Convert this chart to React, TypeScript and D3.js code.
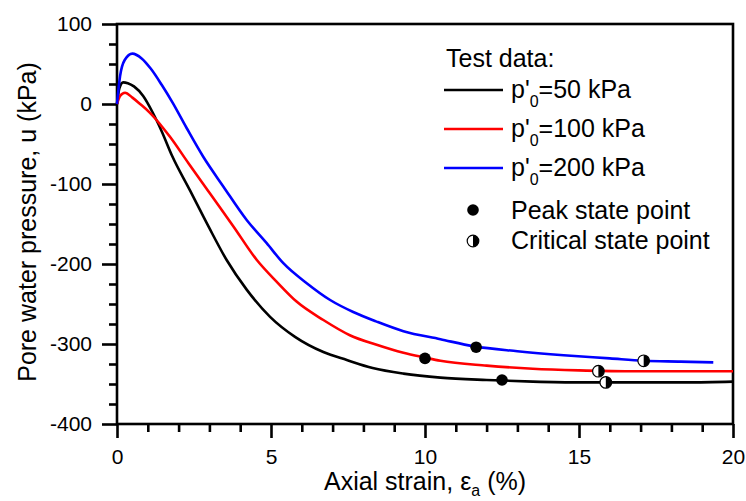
import React, { useEffect, useRef } from "react";
import * as d3 from "d3";

// ---- data ----
const strain50 = [0, 0.08, 0.2, 0.35, 0.55, 0.85, 1.15, 1.45, 1.78, 2.37, 2.97, 3.56, 4.21, 4.97, 5.78, 6.7, 7.46, 8.3, 9.3, 10.5, 12, 13.5, 15, 17, 18.5, 20];
const pwp50 = [0, 20, 27, 26, 22, 10, -10, -34, -64, -108, -153, -195, -232, -266, -291, -310, -320, -330, -337, -342, -345, -347, -348, -348, -348, -347];

const strain100 = [0, 0.1, 0.26, 0.5, 0.75, 1.07, 1.72, 2.32, 3.02, 3.78, 4.54, 5.18, 5.83, 6.7, 7.56, 8.43, 9.3, 10, 10.5, 12, 13.5, 15, 16.5, 18, 20];
const pwp100 = [0, 10, 14, 8, 0, -11, -41, -74, -112, -153, -195, -222, -247, -270, -289, -301, -311, -317, -321, -327, -331, -333, -334, -334, -334];

const strain200 = [0, 0.1, 0.25, 0.5, 0.8, 1.1, 1.45, 1.8, 2.26, 2.8, 3.45, 4.21, 4.86, 5.4, 6.16, 6.92, 7.67, 8.43, 9.3, 10.5, 11.6, 13, 14.5, 16, 17.1, 18.3, 19.36];
const pwp200 = [0, 35, 55, 63, 57, 44, 24, 2, -30, -66, -103, -145, -174, -199, -224, -245, -260, -272, -284, -294, -303, -309, -314, -318, -321, -322, -323];

const peakStrain = [12.5, 10.0, 11.66];
const peakPwp = [-345, -318, -304];
const critStrain = [15.87, 15.63, 17.1];
const critPwp = [-348, -334, -321];

const seriesColors = ["#000000", "#ff0000", "#0000ff"];
const seriesLabels = ["=50 kPa", "=100 kPa", "=200 kPa"];

const xMajorTicks = [0, 5, 10, 15, 20];
const xMinorTicks = [1, 2, 3, 4, 6, 7, 8, 9, 11, 12, 13, 14, 16, 17, 18, 19];
const yMajorTicks = [-400, -300, -200, -100, 0, 100];
const yMinorTicks = [-375, -350, -325, -275, -250, -225, -175, -150, -125, -75, -50, -25, 25, 50, 75];

const W = 746;
const H = 501;
const FONT = "Liberation Sans, Arial, sans-serif";

export default function App() {
  const ref = useRef<SVGSVGElement | null>(null);

  useEffect(() => {
    const svg = d3.select(ref.current);
    svg.selectAll("*").remove();

    const left = 117, right = 733, top = 24, bottom = 424;
    const x = d3.scaleLinear().domain([0, 20]).range([left, right]);
    const y = d3.scaleLinear().domain([-400, 100]).range([bottom, top]);

    const axW = 2.6;
    const fmt = (d: any) => String(d);

    // x axis
    const gx = svg.append("g").attr("transform", `translate(0,${bottom})`);
    gx.call(d3.axisBottom(x).tickValues(xMajorTicks).tickSize(14).tickPadding(11).tickFormat(fmt) as any);
    const gxm = svg.append("g").attr("transform", `translate(0,${bottom})`);
    gxm.call(d3.axisBottom(x).tickValues(xMinorTicks).tickSize(8).tickFormat(() => "") as any);

    // y axis
    const gy = svg.append("g").attr("transform", `translate(${left},0)`);
    gy.call(d3.axisLeft(y).tickValues(yMajorTicks).tickSize(15).tickPadding(10).tickFormat(fmt) as any);
    const gym = svg.append("g").attr("transform", `translate(${left},0)`);
    gym.call(d3.axisLeft(y).tickValues(yMinorTicks).tickSize(8).tickFormat(() => "") as any);

    [gx, gxm, gy, gym].forEach((g) => {
      g.select(".domain").remove();
      g.selectAll("line").attr("stroke", "#000").attr("stroke-width", axW);
      g.selectAll("text").attr("font-family", FONT).attr("font-size", 21).attr("fill", "#000");
    });

    // frame
    svg.append("rect")
      .attr("x", left).attr("y", top)
      .attr("width", right - left).attr("height", bottom - top)
      .attr("fill", "none").attr("stroke", "#000").attr("stroke-width", axW);

    // curves
    const data = [
      [strain50, pwp50],
      [strain100, pwp100],
      [strain200, pwp200],
    ];
    const line = d3.line<[number, number]>()
      .x((d) => x(d[0]))
      .y((d) => y(d[1]))
      .curve(d3.curveMonotoneX);
    data.forEach(([xs, ys], i) => {
      const pts: [number, number][] = xs.map((v, k) => [v, ys[k]]);
      svg.append("path")
        .attr("d", line(pts) as string)
        .attr("fill", "none")
        .attr("stroke", seriesColors[i])
        .attr("stroke-width", 2.6)
        .attr("stroke-linejoin", "round");
    });

    const r = 5.8;
    const halfArc = d3.arc()({ innerRadius: 0, outerRadius: r, startAngle: 0, endAngle: Math.PI } as any) as string;

    const drawPeak = (cx: number, cy: number) => {
      svg.append("circle").attr("cx", cx).attr("cy", cy).attr("r", r).attr("fill", "#000");
    };
    const drawCrit = (cx: number, cy: number) => {
      svg.append("circle").attr("cx", cx).attr("cy", cy).attr("r", r)
        .attr("fill", "#fff").attr("stroke", "#000").attr("stroke-width", 1.2);
      svg.append("path").attr("d", halfArc).attr("transform", `translate(${cx},${cy})`).attr("fill", "#000");
    };

    peakStrain.forEach((v, i) => drawPeak(x(v), y(peakPwp[i])));
    critStrain.forEach((v, i) => drawCrit(x(v), y(critPwp[i])));

    // legend
    const lg = svg.append("g").attr("font-family", FONT).attr("fill", "#000");
    lg.append("text").attr("x", 446).attr("y", 67).attr("font-size", 25).text("Test data:");
    seriesLabels.forEach((lab, i) => {
      const ly = 90 + i * 39;
      lg.append("line").attr("x1", 444).attr("x2", 503).attr("y1", ly).attr("y2", ly)
        .attr("stroke", seriesColors[i]).attr("stroke-width", 2.6);
      const t = lg.append("text").attr("x", 511).attr("y", ly + 8).attr("font-size", 25);
      t.append("tspan").text("p'");
      t.append("tspan").attr("font-size", 16).attr("dy", 9).text("0");
      t.append("tspan").attr("dy", -9).text(lab);
    });
    drawPeak(473, 210);
    lg.append("text").attr("x", 511).attr("y", 219).attr("font-size", 25).text("Peak state point");
    drawCrit(473, 241);
    lg.append("text").attr("x", 511).attr("y", 249).attr("font-size", 25).text("Critical state point");

    // axis titles
    const xt = svg.append("text").attr("x", (left + right) / 2).attr("y", 490)
      .attr("text-anchor", "middle").attr("font-family", FONT).attr("font-size", 25).attr("fill", "#000");
    xt.append("tspan").text("Axial strain, \u03b5");
    xt.append("tspan").attr("font-size", 16).attr("dy", 6).text("a");
    xt.append("tspan").attr("dy", -6).text(" (%)");

    svg.append("text")
      .attr("transform", `translate(36,222) rotate(-90)`)
      .attr("text-anchor", "middle").attr("font-family", FONT).attr("font-size", 25).attr("fill", "#000")
      .text("Pore water pressure, u (kPa)");
  }, []);

  return (
    <svg
      ref={ref}
      width={W}
      height={H}
      viewBox={`0 0 ${W} ${H}`}
      style={{ position: "absolute", left: 0, top: 0, background: "#fff" }}
    />
  );
}
